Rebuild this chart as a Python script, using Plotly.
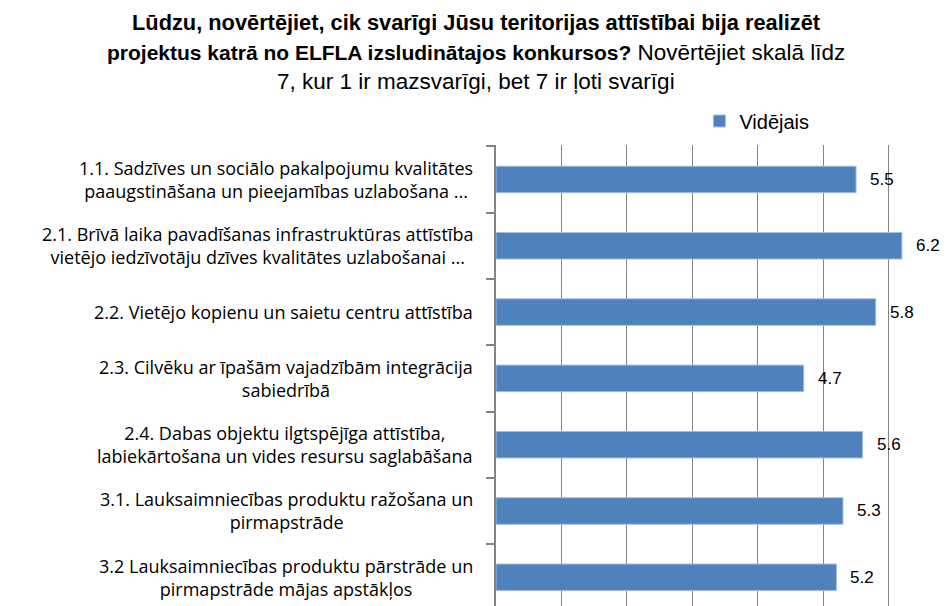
import plotly.graph_objects as go

categories = [
    "1.1. Sadzīves un sociālo pakalpojumu kvalitātes<br>paaugstināšana un pieejamības uzlabošana ...",
    "2.1. Brīvā laika pavadīšanas infrastruktūras attīstība<br>vietējo iedzīvotāju dzīves kvalitātes uzlabošanai ...",
    "2.2. Vietējo kopienu un saietu centru attīstība",
    "2.3. Cilvēku ar īpašām vajadzībām integrācija<br>sabiedrībā",
    "2.4. Dabas objektu ilgtspējīga attīstība,<br>labiekārtošana un vides resursu saglabāšana",
    "3.1. Lauksaimniecības produktu ražošana un<br>pirmapstrāde",
    "3.2 Lauksaimniecības produktu pārstrāde un<br>pirmapstrāde mājas apstākļos",
]
values = [5.5, 6.2, 5.8, 4.7, 5.6, 5.3, 5.2]
series_name = "Vidējais"
title_lines = [
    "<b style='font-size:21.8px'>Lūdzu, novērtējiet, cik svarīgi Jūsu teritorijas attīstībai bija realizēt</b>",
    "<b style='font-size:21px'>projektus katrā no ELFLA izsludinātajos konkursos?</b> Novērtējiet skalā līdz",
    "7, kur 1 ir mazsvarīgi, bet 7 ir ļoti svarīgi",
]

FONT = "Open Sans, Liberation Sans, Arial, sans-serif"
TFONT = "Liberation Sans, Arial, sans-serif"

fig = go.Figure()
fig.add_trace(go.Bar(
    x=values, y=categories, orientation="h", name=series_name,
    marker=dict(color="#4F81BD", line=dict(color="#A3BEDF", width=1)),
    width=0.4, showlegend=True,
))

annotations = []
for c, v in zip(categories, values):
    annotations.append(dict(x=v, y=c, xref="x", yref="y", text=f"{v:.1f}",
                            showarrow=False, xanchor="left", yanchor="middle",
                            xshift=12, font=dict(size=17, color="#000000", family=TFONT)))
    annotations.append(dict(x=0, y=c, xref="paper", yref="y", text=c,
                            showarrow=False, xanchor="right", yanchor="middle",
                            align="center", xshift=-21,
                            font=dict(size=18, color="#000000", family=FONT)))

title_y = [1.2668, 1.2017, 1.1367]
for t, ty in zip(title_lines, title_y):
    annotations.append(dict(x=-0.044, y=ty, xref="paper", yref="paper", text=t,
                            showarrow=False, xanchor="center", yanchor="middle",
                            font=dict(size=22.5, color="#000000", family=TFONT)))

fig.update_layout(
    width=943, height=598,
    margin=dict(l=488, r=0, t=137, b=0),
    paper_bgcolor="white", plot_bgcolor="white",
    font=dict(family=FONT, color="#000000"),
    legend=dict(orientation="h", x=0.447, xanchor="left", y=1.052, yanchor="middle",
                font=dict(size=20, family=TFONT, color="#000000"),
                bgcolor="rgba(0,0,0,0)"),
    annotations=annotations,
)
fig.update_xaxes(range=[0, 6.95], dtick=1, showgrid=True, gridcolor="#848484", gridwidth=1.3,
                 showticklabels=False, zeroline=False, showline=False, ticks="")
fig.update_yaxes(range=[6.433, -0.52], showticklabels=False, showline=True, linecolor="#848484",
                 linewidth=1.5, ticks="outside", ticklen=8, tickcolor="#848484", tickwidth=1.5,
                 tickson="boundaries", showgrid=False)

fig.write_html("out.html")
